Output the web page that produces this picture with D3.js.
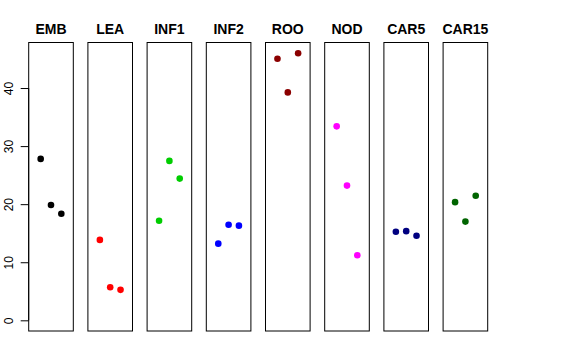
<!DOCTYPE html>
<html><head><meta charset="utf-8">
<script src="https://cdn.jsdelivr.net/npm/d3@7"></script>
<style>body{margin:0;background:#fff}svg{display:block}text{font-family:"Liberation Sans",Arial,Helvetica,sans-serif}</style>
</head><body>
<script>
const categories = ["EMB","LEA","INF1","INF2","ROO","NOD","CAR5","CAR15"];
const colors = ["#000000","#FF0000","#00CD00","#0000FF","#8B0000","#FF00FF","#000080","#006400"];
const values = [
  [27.8, 19.85, 18.35],
  [13.85, 5.7, 5.25],
  [17.15, 27.45, 24.4],
  [13.2, 16.45, 16.3],
  [45.05, 39.25, 46.0],
  [33.4, 23.2, 11.2],
  [15.25, 15.35, 14.55],
  [20.35, 17.0, 21.45]
];
const yTicks = [0, 10, 20, 30, 40];
const replicates = [1, 2, 3];

const W = 576, H = 360;
const svg = d3.select("body").append("svg").attr("width", W).attr("height", H);

const yMin = 0, yMax = 46, ext = 0.04 * (yMax - yMin);
const y = d3.scaleLinear().domain([yMin - ext, yMax + ext]).range([331, 42.5]);
const panel = d3.scaleBand().domain(categories).range([28.7, 487.7]).paddingInner(0.2466).paddingOuter(0);
const x = d3.scaleLinear().domain([-0.16, 4.16]).range([0, panel.bandwidth()]);

categories.forEach((c, i) => {
  const g = svg.append("g").attr("transform", `translate(${panel(c)},0)`);
  g.append("rect")
    .attr("x", 0).attr("y", y.range()[1])
    .attr("width", panel.bandwidth()).attr("height", y.range()[0] - y.range()[1])
    .attr("fill", "none").attr("stroke", "#000").attr("stroke-width", 1);
  g.append("text")
    .attr("x", panel.bandwidth() / 2).attr("y", 34)
    .attr("text-anchor", "middle").attr("font-weight", "bold").attr("font-size", 14)
    .text(c);
  g.selectAll("circle").data(values[i]).join("circle")
    .attr("cx", (d, j) => x(replicates[j]))
    .attr("cy", d => y(d))
    .attr("r", 3.3)
    .attr("fill", colors[i]);
});

// y axis
const axisX = panel(categories[0]);
const ax = svg.append("g").attr("transform", `translate(${axisX},0)`)
  .call(d3.axisLeft(y).tickValues(yTicks).tickSize(8).tickFormat(d3.format("d")));
ax.select(".domain").attr("d", `M0,${y(0)}V${y(40)}`).attr("stroke", "#000");
ax.selectAll(".tick line").attr("stroke", "#000");
ax.selectAll(".tick text")
  .attr("font-size", 12).attr("fill", "#000")
  .attr("font-family", "'Liberation Sans',Arial,Helvetica,sans-serif")
  .attr("text-anchor", "middle").attr("dy", null).attr("x", null)
  .attr("transform", `translate(${12.5 - axisX},0) rotate(-90)`);
ax.selectAll(".tick text").attr("y", 0);
</script>
</body></html>
